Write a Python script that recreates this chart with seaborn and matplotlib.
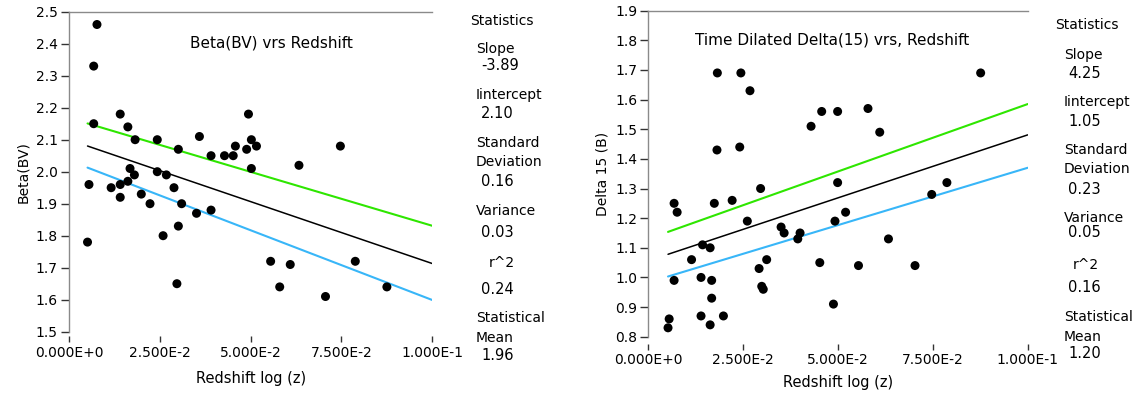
import numpy as np
import pandas as pd
import matplotlib
matplotlib.use("Agg")
import matplotlib.pyplot as plt
import seaborn as sns

# ---------------- data ----------------
beta_z = [0.0051, 0.0055, 0.0068, 0.0068, 0.0077, 0.0116, 0.0141, 0.0141, 0.0141,
          0.0162, 0.0162, 0.0168, 0.0180, 0.0182, 0.0199, 0.0223, 0.0243, 0.0243,
          0.0259, 0.0268, 0.0289, 0.0297, 0.0301, 0.0301, 0.0310, 0.0351, 0.0359,
          0.0391, 0.0391, 0.0428, 0.0452, 0.0458, 0.0489, 0.0494, 0.0502, 0.0502,
          0.0516, 0.0555, 0.0580, 0.0609, 0.0633, 0.0706, 0.0747, 0.0788, 0.0875]
beta_val = [1.78, 1.96, 2.15, 2.33, 2.46, 1.95, 1.96, 1.92, 2.18,
            2.14, 1.97, 2.01, 1.99, 2.10, 1.93, 1.90, 2.10, 2.00,
            1.80, 1.99, 1.95, 1.65, 1.83, 2.07, 1.90, 1.87, 2.11,
            1.88, 2.05, 2.05, 2.05, 2.08, 2.07, 2.18, 2.10, 2.01,
            2.08, 1.72, 1.64, 1.71, 2.02, 1.61, 2.08, 1.72, 1.64]

delta_z = [0.0052, 0.0055, 0.0068, 0.0068, 0.0076, 0.0114, 0.0139, 0.0139, 0.0143,
           0.0163, 0.0163, 0.0167, 0.0167, 0.0174, 0.0181, 0.0182, 0.0198, 0.0221,
           0.0241, 0.0244, 0.0261, 0.0268, 0.0292, 0.0296, 0.0299, 0.0303, 0.0312,
           0.0350, 0.0358, 0.0394, 0.0400, 0.0429, 0.0452, 0.0457, 0.0488, 0.0492,
           0.0499, 0.0499, 0.0520, 0.0554, 0.0579, 0.0610, 0.0633, 0.0703, 0.0747,
           0.0787, 0.0876]
delta_val = [0.83, 0.86, 0.99, 1.25, 1.22, 1.06, 1.00, 0.87, 1.11,
             1.10, 0.84, 0.99, 0.93, 1.25, 1.43, 1.69, 0.87, 1.26,
             1.44, 1.69, 1.19, 1.63, 1.03, 1.30, 0.97, 0.96, 1.06,
             1.17, 1.15, 1.13, 1.15, 1.51, 1.05, 1.56, 0.91, 1.19,
             1.56, 1.32, 1.22, 1.04, 1.57, 1.49, 1.13, 1.04, 1.28,
             1.32, 1.69]

# fit lines: (upper, fit, lower)
beta_line_intercepts = [2.168, 2.10, 2.035]
beta_line_slopes = [-3.37, -3.87, -4.36]
delta_line_intercepts = [1.130, 1.056, 0.983]
delta_line_slopes = [4.55, 4.25, 3.87]

x_ticks = [0.0, 0.025, 0.05, 0.075, 0.1]
x_tick_labels = ["0.000E+0", "2.500E-2", "5.000E-2", "7.500E-2", "1.000E-1"]
beta_y_ticks = [1.5, 1.6, 1.7, 1.8, 1.9, 2.0, 2.1, 2.2, 2.3, 2.4, 2.5]
delta_y_ticks = [0.8, 0.9, 1.0, 1.1, 1.2, 1.3, 1.4, 1.5, 1.6, 1.7, 1.8, 1.9]

stat_names = ["Slope", "Iintercept", "Standard\nDeviation", "Variance", "r^2", "Statistical\nMean"]
beta_stats = ["-3.89", "2.10", "0.16", "0.03", "0.24", "1.96"]
delta_stats = ["4.25", "1.05", "0.23", "0.05", "0.16", "1.20"]

beta_title = "Beta(BV) vrs Redshift"
delta_title = "Time Dilated Delta(15) vrs, Redshift"
beta_ylabel = "Beta(BV)"
delta_ylabel = "Delta 15 (B)"
xlabel = "Redshift log (z)"

# ---------------- style ----------------
sns.set_theme(style="white")
plt.rcParams['font.family'] = ['DejaVu Sans']
plt.rcParams.update({"text.color": "black", "axes.labelcolor": "black",
                     "xtick.color": "black", "ytick.color": "black"})
W, H = 1139, 396
fig = plt.figure(figsize=(W / 100, H / 100), dpi=100, facecolor="white")

line_colors = ["#2ee600", "black", "#38b6f8"]
line_widths = [1.5, 1.1, 1.5]


def px_axes(x0, x1, ytop, ybot):
    return fig.add_axes([x0 / W, 1 - ybot / H, (x1 - x0) / W, (ybot - ytop) / H])


def draw_panel(ax, z, v, intercepts, slopes, yticks, title, ylabel, title_pos,
               xtick_off, xlabelpad):
    df = pd.DataFrame({"z": z, "v": v})
    xs = np.array([min(z), x_ticks[-1]])
    for b, m, c, lw in zip(intercepts, slopes, line_colors, line_widths):
        ldf = pd.DataFrame({"z": xs, "v": b + m * xs})
        sns.lineplot(data=ldf, x="z", y="v", color=c, linewidth=lw, ax=ax, zorder=2)
    sns.scatterplot(data=df, x="z", y="v", color="black", s=42, edgecolor="none",
                    ax=ax, zorder=3)
    ax.set_xlim(x_ticks[0], x_ticks[-1])
    ax.set_ylim(yticks[0], yticks[-1])
    ax.set_xticks(x_ticks)
    ax.set_xticklabels(x_tick_labels)
    ax.set_yticks(yticks)
    ax.set_yticklabels([f"{t:.1f}" for t in yticks])
    ax.set_facecolor("white")
    for s in ["right", "bottom"]:
        ax.spines[s].set_visible(False)
    for s in ["left", "top"]:
        ax.spines[s].set_color("#8a8a8a")
        ax.spines[s].set_linewidth(1.0)
    ax.spines["bottom"].set_position(("outward", xtick_off))
    ax.tick_params(axis="y", direction="out", length=6, width=1, color="#333333",
                   labelsize=10, pad=2, left=True)
    ax.tick_params(axis="x", direction="out", length=4, width=1, color="#333333",
                   labelsize=10, pad=3, bottom=True)
    ax.set_xlabel(xlabel, fontsize=10.5, labelpad=xlabelpad)
    ax.set_ylabel(ylabel, fontsize=10, labelpad=4)
    ax.text(title_pos[0], title_pos[1], title, transform=ax.transAxes,
            ha="center", va="center", fontsize=11)


ax1 = px_axes(69, 432.3, 11.7, 331.7)
draw_panel(ax1, beta_z, beta_val, beta_line_intercepts, beta_line_slopes,
           beta_y_ticks, beta_title, beta_ylabel, (0.556, 0.902), 3, 8)

ax2 = px_axes(648.3, 1027.7, 10.7, 336.7)
draw_panel(ax2, delta_z, delta_val, delta_line_intercepts, delta_line_slopes,
           delta_y_ticks, delta_title, delta_ylabel, (0.484, 0.91), 5, 5.5)


def draw_stats(values, head_xy, name_x, val_x, name_ys, val_ys, r2_dx):
    fig.text(head_xy[0] / W, 1 - head_xy[1] / H, "Statistics", fontsize=10,
             ha="left", va="center")
    for name, ny, val, vy in zip(stat_names, name_ys, values, val_ys):
        parts = name.split("\n")
        ys = ny if isinstance(ny, tuple) else (ny,)
        for p, yy in zip(parts, ys):
            dx = r2_dx if p == "r^2" else 0
            fig.text((name_x + dx) / W, 1 - yy / H, p, fontsize=10, ha="left", va="center")
        fig.text(val_x / W, 1 - vy / H, val, fontsize=10.5, ha="left", va="center")


draw_stats(beta_stats, (470, 20.7), 476, 481,
           [49, 95, (143, 162), 211, 263, (318, 338)],
           [66, 114, 182, 233, 289, 356], 13)
draw_stats(delta_stats, (1055, 25), 1064, 1068,
           [55, 102, (150, 169), 218, 265, (317, 337)],
           [73, 121, 189, 233, 288, 354], 9)

fig.savefig("out.png", dpi=100, facecolor="white")
